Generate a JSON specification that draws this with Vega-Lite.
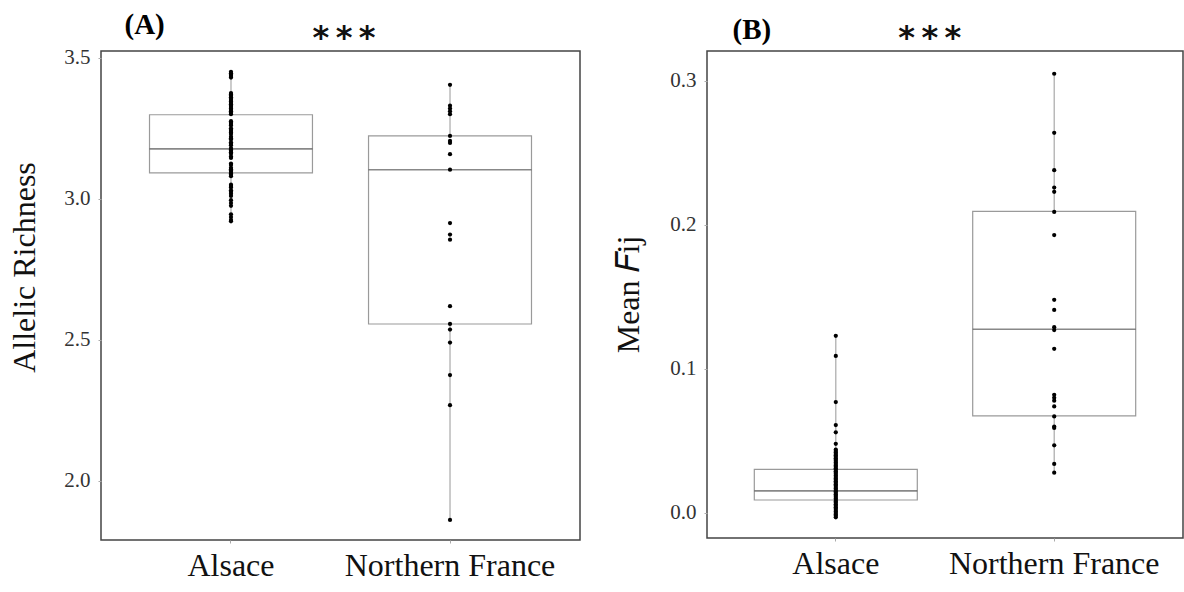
{
  "$schema": "https://vega.github.io/schema/vega-lite/v6.json",
  "background": "white",
  "padding": {"left": 7, "top": 9, "right": 0, "bottom": 0},
  "spacing": 30,
  "config": {
    "view": {"stroke": "#444", "strokeWidth": 1.5},
    "font": "Liberation Serif",
    "axis": {"titleFont": "Liberation Serif", "labelFont": "Liberation Serif", "titleFontWeight": "normal"}
  },
  "datasets": {
    "a_box": [
      {"group": "Alsace", "lo": 2.92, "q1": 3.092, "median": 3.177, "q3": 3.298, "hi": 3.45},
      {"group": "Northern France", "lo": 1.861, "q1": 2.556, "median": 3.103, "q3": 3.223, "hi": 3.404}
    ],
    "b_box": [
      {"group": "Alsace", "lo": -0.003, "q1": 0.009, "median": 0.0153, "q3": 0.0303, "hi": 0.123},
      {"group": "Northern France", "lo": 0.028, "q1": 0.0674, "median": 0.1276, "q3": 0.2094, "hi": 0.305}
    ],
    "a_pts": [
      {"group": "Alsace", "value": 3.45}, {"group": "Alsace", "value": 3.445}, {"group": "Alsace", "value": 3.44}, {"group": "Alsace", "value": 3.435}, {"group": "Alsace", "value": 3.43},
      {"group": "Alsace", "value": 3.375}, {"group": "Alsace", "value": 3.37}, {"group": "Alsace", "value": 3.365}, {"group": "Alsace", "value": 3.36}, {"group": "Alsace", "value": 3.355}, {"group": "Alsace", "value": 3.35}, {"group": "Alsace", "value": 3.345}, {"group": "Alsace", "value": 3.34}, {"group": "Alsace", "value": 3.335}, {"group": "Alsace", "value": 3.33}, {"group": "Alsace", "value": 3.325}, {"group": "Alsace", "value": 3.32}, {"group": "Alsace", "value": 3.315}, {"group": "Alsace", "value": 3.31}, {"group": "Alsace", "value": 3.305}, {"group": "Alsace", "value": 3.3},
      {"group": "Alsace", "value": 3.275}, {"group": "Alsace", "value": 3.27}, {"group": "Alsace", "value": 3.265}, {"group": "Alsace", "value": 3.26}, {"group": "Alsace", "value": 3.25}, {"group": "Alsace", "value": 3.245}, {"group": "Alsace", "value": 3.24}, {"group": "Alsace", "value": 3.235}, {"group": "Alsace", "value": 3.23}, {"group": "Alsace", "value": 3.22}, {"group": "Alsace", "value": 3.215}, {"group": "Alsace", "value": 3.21}, {"group": "Alsace", "value": 3.2}, {"group": "Alsace", "value": 3.195}, {"group": "Alsace", "value": 3.19}, {"group": "Alsace", "value": 3.18}, {"group": "Alsace", "value": 3.175}, {"group": "Alsace", "value": 3.17}, {"group": "Alsace", "value": 3.165}, {"group": "Alsace", "value": 3.16}, {"group": "Alsace", "value": 3.15}, {"group": "Alsace", "value": 3.145},
      {"group": "Alsace", "value": 3.125}, {"group": "Alsace", "value": 3.12}, {"group": "Alsace", "value": 3.11}, {"group": "Alsace", "value": 3.105}, {"group": "Alsace", "value": 3.1}, {"group": "Alsace", "value": 3.095}, {"group": "Alsace", "value": 3.09}, {"group": "Alsace", "value": 3.085}, {"group": "Alsace", "value": 3.08},
      {"group": "Alsace", "value": 3.05}, {"group": "Alsace", "value": 3.045}, {"group": "Alsace", "value": 3.04}, {"group": "Alsace", "value": 3.03}, {"group": "Alsace", "value": 3.025}, {"group": "Alsace", "value": 3.018}, {"group": "Alsace", "value": 3.01}, {"group": "Alsace", "value": 2.995}, {"group": "Alsace", "value": 2.985}, {"group": "Alsace", "value": 2.975}, {"group": "Alsace", "value": 2.945}, {"group": "Alsace", "value": 2.935}, {"group": "Alsace", "value": 2.925}, {"group": "Alsace", "value": 2.92},
      {"group": "Northern France", "value": 3.404}, {"group": "Northern France", "value": 3.33}, {"group": "Northern France", "value": 3.32}, {"group": "Northern France", "value": 3.31}, {"group": "Northern France", "value": 3.3}, {"group": "Northern France", "value": 3.223}, {"group": "Northern France", "value": 3.205}, {"group": "Northern France", "value": 3.198}, {"group": "Northern France", "value": 3.158}, {"group": "Northern France", "value": 3.103}, {"group": "Northern France", "value": 2.914}, {"group": "Northern France", "value": 2.873}, {"group": "Northern France", "value": 2.855}, {"group": "Northern France", "value": 2.619}, {"group": "Northern France", "value": 2.556}, {"group": "Northern France", "value": 2.536}, {"group": "Northern France", "value": 2.49}, {"group": "Northern France", "value": 2.375}, {"group": "Northern France", "value": 2.268}, {"group": "Northern France", "value": 1.861}
    ],
    "b_pts": [
      {"group": "Alsace", "value": 0.123}, {"group": "Alsace", "value": 0.109}, {"group": "Alsace", "value": 0.077}, {"group": "Alsace", "value": 0.061}, {"group": "Alsace", "value": 0.056}, {"group": "Alsace", "value": 0.048},
      {"group": "Alsace", "value": 0.044}, {"group": "Alsace", "value": 0.043}, {"group": "Alsace", "value": 0.042}, {"group": "Alsace", "value": 0.041}, {"group": "Alsace", "value": 0.04}, {"group": "Alsace", "value": 0.039}, {"group": "Alsace", "value": 0.038}, {"group": "Alsace", "value": 0.037}, {"group": "Alsace", "value": 0.036}, {"group": "Alsace", "value": 0.035}, {"group": "Alsace", "value": 0.034}, {"group": "Alsace", "value": 0.033}, {"group": "Alsace", "value": 0.032}, {"group": "Alsace", "value": 0.031}, {"group": "Alsace", "value": 0.03}, {"group": "Alsace", "value": 0.029}, {"group": "Alsace", "value": 0.028}, {"group": "Alsace", "value": 0.027}, {"group": "Alsace", "value": 0.026}, {"group": "Alsace", "value": 0.025}, {"group": "Alsace", "value": 0.024}, {"group": "Alsace", "value": 0.023}, {"group": "Alsace", "value": 0.022}, {"group": "Alsace", "value": 0.021}, {"group": "Alsace", "value": 0.02}, {"group": "Alsace", "value": 0.019}, {"group": "Alsace", "value": 0.018}, {"group": "Alsace", "value": 0.017}, {"group": "Alsace", "value": 0.016}, {"group": "Alsace", "value": 0.015}, {"group": "Alsace", "value": 0.014}, {"group": "Alsace", "value": 0.013}, {"group": "Alsace", "value": 0.012}, {"group": "Alsace", "value": 0.011}, {"group": "Alsace", "value": 0.01}, {"group": "Alsace", "value": 0.009}, {"group": "Alsace", "value": 0.008}, {"group": "Alsace", "value": 0.007}, {"group": "Alsace", "value": 0.006}, {"group": "Alsace", "value": 0.005}, {"group": "Alsace", "value": 0.004}, {"group": "Alsace", "value": 0.003}, {"group": "Alsace", "value": 0.002}, {"group": "Alsace", "value": 0.001}, {"group": "Alsace", "value": 0.0}, {"group": "Alsace", "value": -0.001}, {"group": "Alsace", "value": -0.002}, {"group": "Alsace", "value": -0.003},
      {"group": "Northern France", "value": 0.305}, {"group": "Northern France", "value": 0.264}, {"group": "Northern France", "value": 0.238}, {"group": "Northern France", "value": 0.226}, {"group": "Northern France", "value": 0.223}, {"group": "Northern France", "value": 0.209}, {"group": "Northern France", "value": 0.193}, {"group": "Northern France", "value": 0.148}, {"group": "Northern France", "value": 0.141}, {"group": "Northern France", "value": 0.129}, {"group": "Northern France", "value": 0.127}, {"group": "Northern France", "value": 0.114}, {"group": "Northern France", "value": 0.082}, {"group": "Northern France", "value": 0.08}, {"group": "Northern France", "value": 0.078}, {"group": "Northern France", "value": 0.074}, {"group": "Northern France", "value": 0.067}, {"group": "Northern France", "value": 0.06}, {"group": "Northern France", "value": 0.059}, {"group": "Northern France", "value": 0.047}, {"group": "Northern France", "value": 0.034}, {"group": "Northern France", "value": 0.028}
    ]
  },
  "hconcat": [
    {
      "width": 479,
      "height": 489,
      "resolve": {"axis": {"x": "independent"}},
      "layer": [
        {
          "data": {"name": "a_box"},
          "mark": {"type": "rule", "color": "#a8a8a8", "strokeWidth": 1.2},
          "encoding": {
            "x": {"field": "group", "type": "nominal", "sort": null,
              "scale": {"type": "band", "paddingInner": 0.256, "paddingOuter": 0.2215},
              "axis": {"orient": "top", "ticks": false, "domain": false, "grid": false,
                "labelExpr": "datum.value == 'Alsace' ? '*\u2009*\u2009*' : ''",
                "labelOffset": 113, "labelAngle": 0, "labelAlign": "center", "labelBaseline": "alphabetic", "labelLimit": 0,
                "labelPadding": 4, "labelFont": "DejaVu Sans", "labelFontWeight": "bold", "labelFontSize": 32, "labelColor": "#111",
                "title": "(A)", "titleX": 23, "titleY": -18, "titleAngle": 0, "titleAlign": "left", "titleBaseline": "alphabetic",
                "titleFont": "Liberation Serif", "titleFontSize": 29, "titleFontWeight": "bold", "titleColor": "#000"}},
            "y": {"field": "lo", "type": "quantitative",
              "scale": {"domain": [1.79, 3.524], "nice": false, "zero": false},
              "axis": {"values": [2.0, 2.5, 3.0, 3.5], "format": ".1f", "grid": false, "domain": false,
                "tickSize": 3, "tickColor": "#aaa", "labelPadding": 8, "labelFont": "Liberation Serif", "labelFontSize": 21, "labelColor": "#333",
                "title": "Allelic Richness", "titleFont": "Liberation Serif", "titleFontSize": 32, "titleFontWeight": "normal", "titleColor": "#111",
                "titleX": -67, "titleY": 216, "titleAngle": 270, "titleAlign": "center", "titleBaseline": "alphabetic"}},
            "y2": {"field": "hi"}
          }
        },
        {
          "data": {"name": "a_box"},
          "mark": {"type": "bar", "fill": "white", "stroke": "#9a9a9a", "strokeWidth": 1.2},
          "encoding": {
            "x": {"field": "group", "type": "nominal", "sort": null, "axis": null},
            "y": {"field": "q1", "type": "quantitative", "title": "Allelic Richness"},
            "y2": {"field": "q3"}
          }
        },
        {
          "data": {"name": "a_box"},
          "mark": {"type": "tick", "color": "#555", "thickness": 1.6, "size": 163},
          "encoding": {
            "x": {"field": "group", "type": "nominal", "sort": null, "axis": null},
            "y": {"field": "median", "type": "quantitative", "title": "Allelic Richness"}
          }
        },
        {
          "data": {"name": "a_pts"},
          "mark": {"type": "circle", "color": "#000", "size": 18, "opacity": 1},
          "encoding": {
            "x": {"field": "group", "type": "nominal", "sort": null,
              "axis": {"orient": "bottom", "title": null, "domain": false, "grid": false, "tickSize": 3, "tickColor": "#aaa", "labelLimit": 0,
                "labelAngle": 0, "labelPadding": 7, "labelFont": "Liberation Serif", "labelFontSize": 32, "labelColor": "#111"}},
            "y": {"field": "value", "type": "quantitative", "title": "Allelic Richness"}
          }
        }
      ]
    },
    {
      "width": 476,
      "height": 487,
      "resolve": {"axis": {"x": "independent"}},
      "layer": [
        {
          "data": {"name": "b_box"},
          "mark": {"type": "rule", "color": "#a8a8a8", "strokeWidth": 1.2},
          "encoding": {
            "x": {"field": "group", "type": "nominal", "sort": null,
              "scale": {"type": "band", "paddingInner": 0.2537, "paddingOuter": 0.2166},
              "axis": {"orient": "top", "ticks": false, "domain": false, "grid": false,
                "labelExpr": "datum.value == 'Alsace' ? '*\u2009*\u2009*' : ''",
                "labelOffset": 94, "labelAngle": 0, "labelAlign": "center", "labelBaseline": "alphabetic", "labelLimit": 0,
                "labelPadding": 4, "labelFont": "DejaVu Sans", "labelFontWeight": "bold", "labelFontSize": 32, "labelColor": "#111",
                "title": "(B)", "titleX": 25, "titleY": -13, "titleAngle": 0, "titleAlign": "left", "titleBaseline": "alphabetic",
                "titleFont": "Liberation Serif", "titleFontSize": 29, "titleFontWeight": "bold", "titleColor": "#000"}},
            "y": {"field": "lo", "type": "quantitative",
              "scale": {"domain": [-0.0174, 0.3208], "nice": false, "zero": false},
              "axis": {"values": [0, 0.1, 0.2, 0.3], "format": ".1f", "grid": false, "domain": false,
                "tickSize": 3, "tickColor": "#aaa", "labelPadding": 8, "labelFont": "Liberation Serif", "labelFontSize": 21, "labelColor": "#333",
                "title": "Mean 𝐹ij", "titleFont": "Liberation Serif", "titleFontSize": 32, "titleFontWeight": "normal", "titleColor": "#111",
                "titleX": -69, "titleY": 243, "titleAngle": 270, "titleAlign": "center", "titleBaseline": "alphabetic"}},
            "y2": {"field": "hi"}
          }
        },
        {
          "data": {"name": "b_box"},
          "mark": {"type": "bar", "fill": "white", "stroke": "#9a9a9a", "strokeWidth": 1.2},
          "encoding": {
            "x": {"field": "group", "type": "nominal", "sort": null, "axis": null},
            "y": {"field": "q1", "type": "quantitative", "title": "Mean 𝐹ij"},
            "y2": {"field": "q3"}
          }
        },
        {
          "data": {"name": "b_box"},
          "mark": {"type": "tick", "color": "#555", "thickness": 1.6, "size": 163},
          "encoding": {
            "x": {"field": "group", "type": "nominal", "sort": null, "axis": null},
            "y": {"field": "median", "type": "quantitative", "title": "Mean 𝐹ij"}
          }
        },
        {
          "data": {"name": "b_pts"},
          "mark": {"type": "circle", "color": "#000", "size": 18, "opacity": 1},
          "encoding": {
            "x": {"field": "group", "type": "nominal", "sort": null,
              "axis": {"orient": "bottom", "title": null, "domain": false, "grid": false, "tickSize": 3, "tickColor": "#aaa", "labelLimit": 0,
                "labelAngle": 0, "labelPadding": 7, "labelFont": "Liberation Serif", "labelFontSize": 32, "labelColor": "#111"}},
            "y": {"field": "value", "type": "quantitative", "title": "Mean 𝐹ij"}
          }
        }
      ]
    }
  ]
}
